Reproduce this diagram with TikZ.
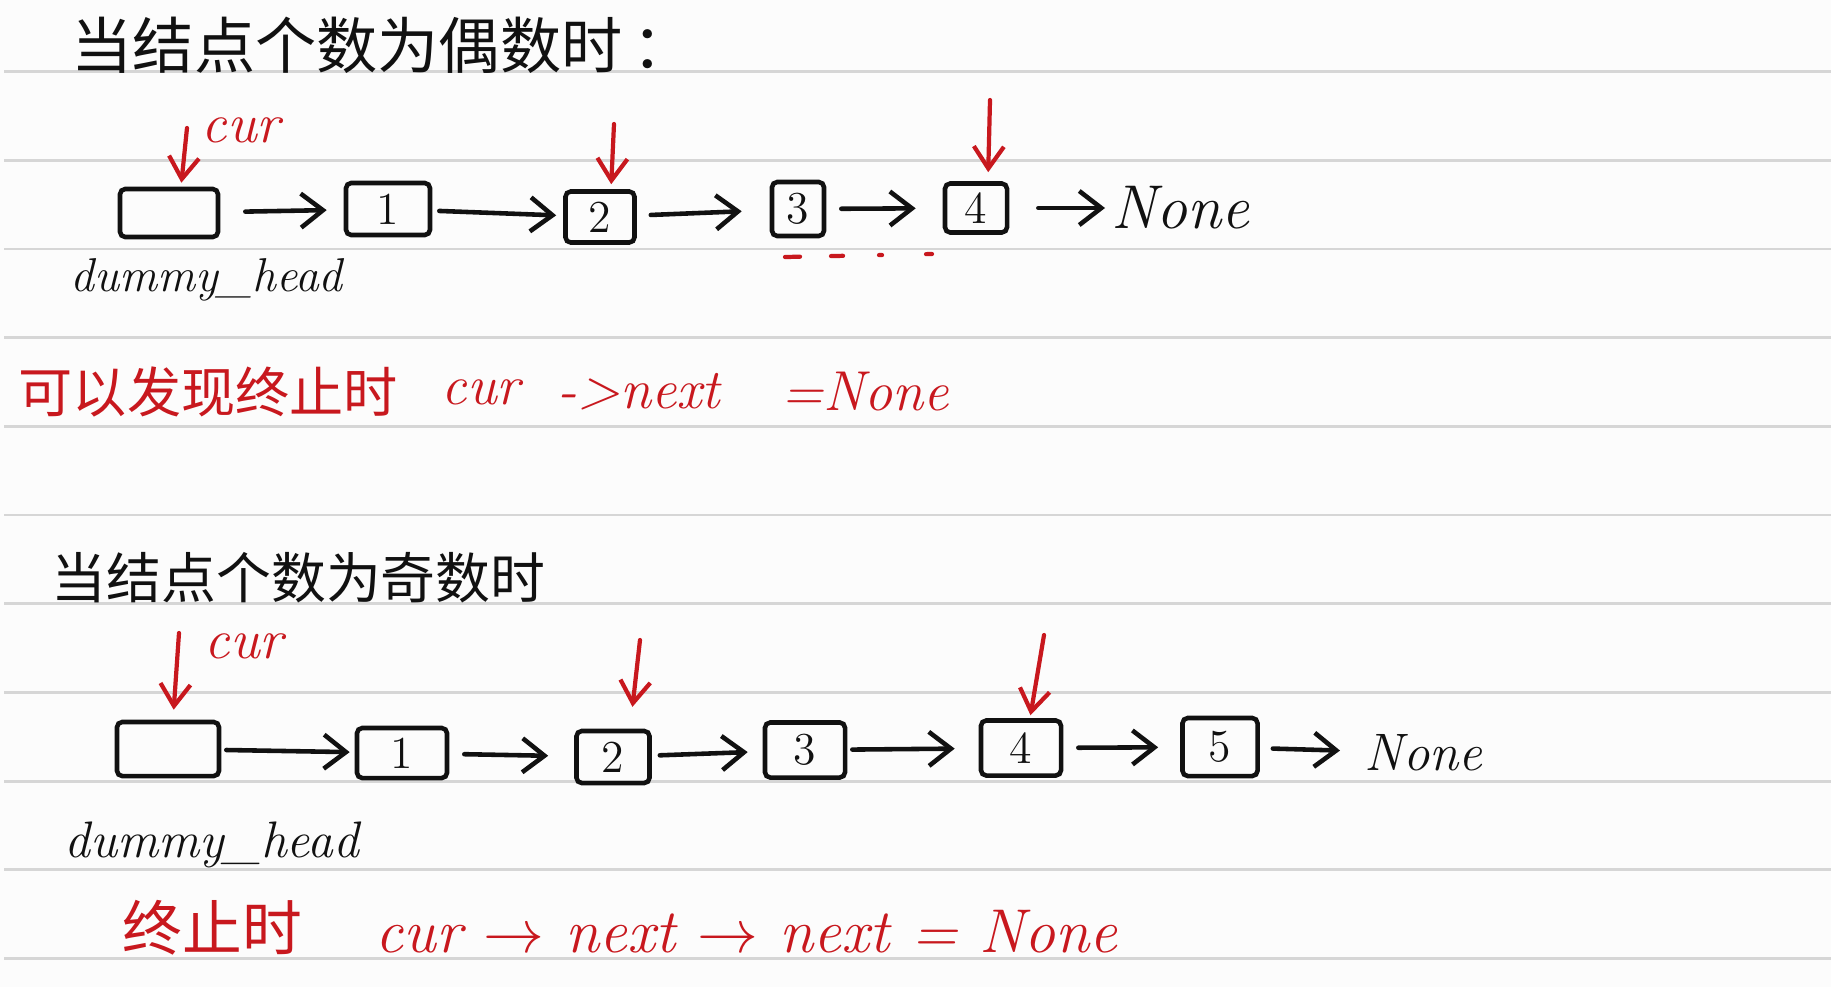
\documentclass[tikz,border=0pt]{standalone}
\usepackage{fontspec}
\newfontfamily\cjk{Noto Sans CJK SC}
\usetikzlibrary{arrows.meta}
\definecolor{ink}{RGB}{17,17,17}
\definecolor{hred}{RGB}{200,24,30}
\definecolor{rulegray}{RGB}{214,214,214}
\definecolor{paper}{RGB}{252,252,252}
\begin{document}
\begin{tikzpicture}[x=0.01cm,y=-0.01cm,
  rule/.style={draw=rulegray, line width=0.8pt},
  nodebox/.style={draw=ink, line width=1.3pt, rounded corners=1.5pt, inner sep=0pt, text=ink, font=\fontsize{13}{13}\selectfont},
  link/.style={draw=ink, line width=1.3pt, line cap=round, -{Straight Barb[length=2.2mm,width=3.4mm]}},
  ptr/.style={draw=hred, line width=1.2pt, line cap=round, -{Straight Barb[length=2.2mm,width=3mm]}},
  blacktxt/.style={inner sep=0pt, text=ink, anchor=west},
  redtxt/.style={inner sep=0pt, text=hred, anchor=west},
  ]
\fill[paper] (0,0) rectangle (1831,987);
\useasboundingbox (0,0) rectangle (1831,987);
\foreach \k in {0,...,10} \draw[rule] (4,{71.5+88.7*\k}) -- (1831,{71.5+88.7*\k});

% ---------- section 1 ----------
\node[blacktxt, font=\cjk\fontsize{17.4}{20}\selectfont] (t1) at (71,45) {当结点个数为偶数时\,：};

\node[nodebox, minimum width=0.98cm, minimum height=0.48cm] (d0) at (169,213) {};
\node[nodebox, minimum width=0.84cm, minimum height=0.52cm] (n1) at (388,209) {1};
\node[nodebox, minimum width=0.69cm, minimum height=0.51cm] (n2) at (600,217) {2};
\node[nodebox, minimum width=0.52cm, minimum height=0.54cm] (n3) at (798,209) {3};
\node[nodebox, minimum width=0.62cm, minimum height=0.49cm] (n4) at (976,208) {4};
\node[blacktxt, font=\itshape\fontsize{17.6}{20}\selectfont] (none1) at (1111,208) {None};

\draw[link, shorten <=2.5mm, shorten >=1.7mm] (d0) -- (n1);
\draw[link, shorten <=0.7mm, shorten >=0.7mm] (n1) -- (n2);
\draw[link, shorten <=1.4mm, shorten >=2.8mm] (n2) -- (n3);
\draw[link, shorten <=1.5mm, shorten >=2.7mm] (n3) -- (n4);
\draw[link, shorten <=2.9mm, shorten >=0.6mm] (n4) -- (none1);

\node[blacktxt, font=\itshape\fontsize{13.5}{16}\selectfont] (dh1) at (70,280) {dummy\_head};

\coordinate (p0) at (187,128);
\coordinate (p2) at (614,124);
\coordinate (p4) at (990,100);
\draw[ptr, shorten >=0.4mm] (p0) -- ([xshift=-0.6mm]p0 |- d0.north);
\draw[ptr, shorten >=0.5mm] (p2) -- ([xshift=-0.3mm]p2 |- n2.north);
\draw[ptr, shorten >=0.9mm] (p4) -- ([xshift=-0.2mm]p4 |- n4.north);
\node[redtxt, font=\itshape\fontsize{16}{18}\selectfont] (cur1) at (201,130) {cur};

\draw[hred, line width=1.2pt, line cap=round, dash pattern=on 1.5mm off 3.1mm on 1.2mm off 3.6mm on 0.3mm off 4.4mm on 0.6mm off 5mm] (785,257) -- (932,254);

\node[redtxt, font=\cjk\fontsize{15.4}{18}\selectfont] (r1a) at (18,392) {可以发现终止时};
\node[redtxt, font=\itshape\fontsize{16}{18}\selectfont] (r1b) at (441,392) {cur};
\node[redtxt, font=\itshape\fontsize{16}{18}\selectfont] (r1c) at (557,392) {->next};
\node[redtxt, font=\itshape\fontsize{16}{18}\selectfont] (r1d) at (781,392) {=None};

% ---------- section 2 ----------
\node[blacktxt, font=\cjk\fontsize{15.6}{18}\selectfont] (t2) at (51,578) {当结点个数为奇数时};

\node[nodebox, minimum width=1.02cm, minimum height=0.54cm] (e0) at (168,749) {};
\node[nodebox, minimum width=0.90cm, minimum height=0.50cm] (e1) at (402,753) {1};
\node[nodebox, minimum width=0.73cm, minimum height=0.52cm] (e2) at (613,757) {2};
\node[nodebox, minimum width=0.80cm, minimum height=0.55cm] (e3) at (805,750) {3};
\node[nodebox, minimum width=0.80cm, minimum height=0.55cm] (e4) at (1021,748) {4};
\node[nodebox, minimum width=0.75cm, minimum height=0.58cm] (e5) at (1220,747) {5};
\node[blacktxt, font=\itshape\fontsize{15}{18}\selectfont] (none2) at (1364,753) {None};

\draw[link, shorten <=0.5mm, shorten >=0.5mm] (e0) -- (e1);
\draw[link, shorten <=1.5mm, shorten >=2.6mm] (e1) -- (e2);
\draw[link, shorten <=0.8mm, shorten >=1.5mm] (e2) -- (e3);
\draw[link, shorten <=0.5mm, shorten >=2.4mm] (e3) -- (e4);
\draw[link, shorten <=1.5mm, shorten >=2.2mm] (e4) -- (e5);
\draw[link, shorten <=1.3mm, shorten >=2.4mm] (e5) -- (none2);

\node[blacktxt, font=\itshape\fontsize{14.6}{17}\selectfont] (dh2) at (64,845) {dummy\_head};

\coordinate (q0) at (179,633);
\coordinate (q2) at (640,640);
\coordinate (q4) at (1044,635);
\draw[ptr, shorten >=1mm] (q0) -- ([xshift=-0.6mm]q0 |- e0.north);
\draw[ptr, shorten >=2.2mm] (q2) -- ([xshift=-1mm]q2 |- e2.north);
\draw[ptr, shorten >=0.3mm] (q4) -- ([xshift=-1.4mm]q4 |- e4.north);
\node[redtxt, font=\itshape\fontsize{16}{18}\selectfont] (cur2) at (204,646) {cur};

\node[redtxt, font=\cjk\fontsize{17}{20}\selectfont] (r2a) at (122,928) {终止时};
\node[redtxt, font=\itshape\fontsize{17.6}{20}\selectfont] (r2b) at (375,932) {cur $\rightarrow$ next $\rightarrow$ next = None};
\end{tikzpicture}
\end{document}
